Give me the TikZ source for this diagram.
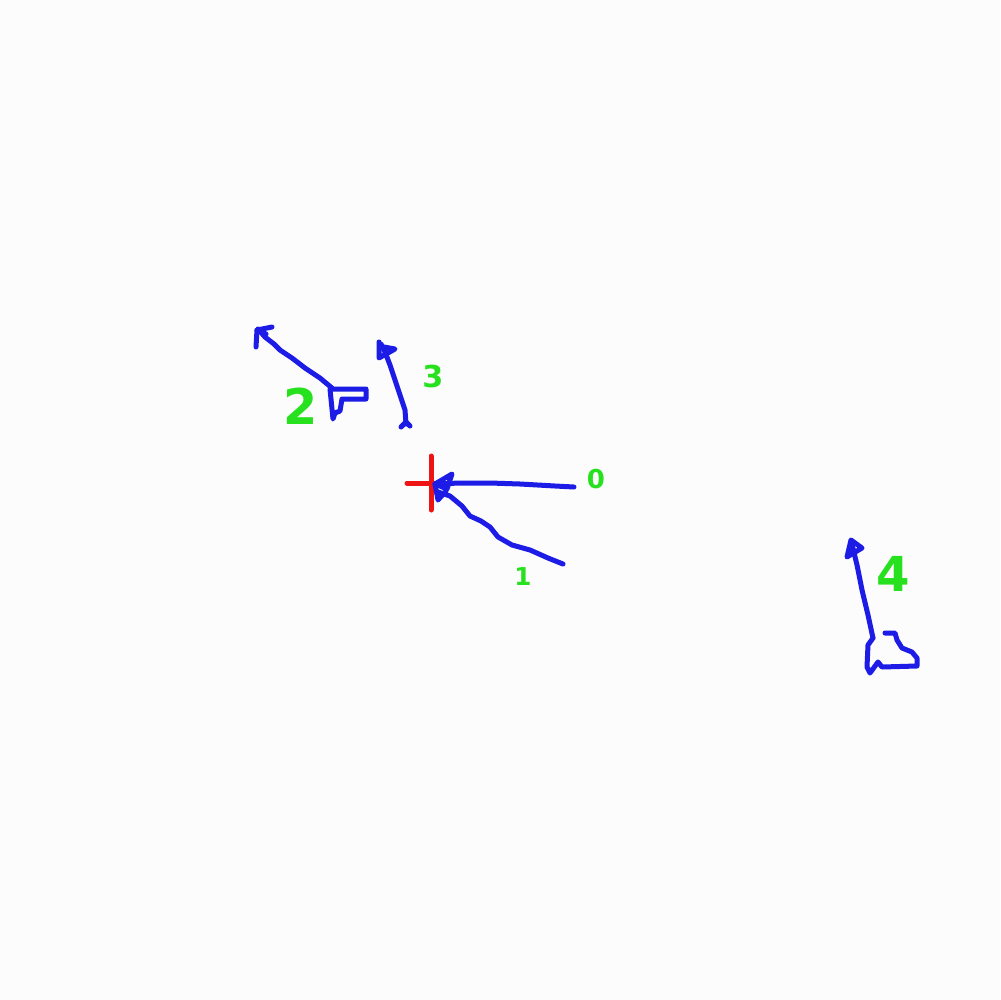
\documentclass[tikz,border=0pt]{standalone}
\usepackage{fontspec}
\setmainfont{DejaVu Sans}
\begin{document}
\begin{tikzpicture}[x=0.1mm,y=-0.1mm,
  pen/.style={draw=penblue,line width=0.5mm,line cap=round,line join=round},
  redpen/.style={draw=penred,line width=0.5mm,line cap=round},
  lbl/.style={text=pengreen,inner sep=0pt}]
\definecolor{penblue}{RGB}{28,28,230}
\definecolor{penred}{RGB}{238,20,20}
\definecolor{pengreen}{RGB}{40,225,30}
\fill[white!99!black] (0,0) rectangle (1000,1000);
\useasboundingbox (0,0) rectangle (1000,1000);
% red cross
\draw[redpen] (407,483) -- (450,483);
\draw[redpen] (431,456) -- (431,510);
% arrow 0
\coordinate (s0) at (574,487);
\coordinate (t0) at (435,484);
\draw[pen] (s0) -- (555,486) -- (520,484) -- (490,483) -- (460,483) -- (t0);
\draw[pen] (t0) -- (452,474) -- (447,489) -- cycle;
\draw[pen] (t0) -- (438,500) -- (446,491);
% arrow 1
\coordinate (s1) at (563,564);
\coordinate (t1) at (438,492);
\draw[pen] (s1) -- (548,558) -- (530,550) -- (512,545) -- (498,537) -- (490,527) -- (481,521) -- (470,516) -- (462,506) -- (450,496) -- (t1);
% arrow 2
\coordinate (s2) at (332,388);
\coordinate (t2) at (258,329);
\draw[pen] (s2) -- (320,378) -- (305,368) -- (292,358) -- (280,350) -- (274,344) -- (265,337) -- (t2);
\draw[pen] (256,347) -- (257,330) -- (272,327);
\draw[pen] (257,330) -- (266,334);
% L shape near 2
\draw[pen] (330,389) -- (366,389) -- (366,399) -- (342,399) -- (340,411) -- (335,413) -- (333,419) -- cycle;
% arrow 3
\coordinate (s3) at (406,424);
\coordinate (t3) at (381,344);
\draw[pen] (s3) -- (405,410) -- (400,395) -- (395,380) -- (390,365) -- (385,352) -- (t3);
\draw[pen] (401,427) -- (406,422) -- (410,426);
\draw[pen] (379,342) -- (379,358) -- (395,349) -- (384,347);
% arrow 4
\coordinate (s4) at (873,638);
\coordinate (t4) at (852,544);
\draw[pen] (s4) -- (868,615) -- (862,590) -- (857,565) -- (t4);
\draw[pen] (847,557) -- (851,540) -- (862,548) -- cycle;
% boot shape
\draw[pen] (873,638) -- (868,645) -- (867,667) -- (870,673) -- (878,662) -- (882,667) -- (917,666) -- (917,658) -- (912,652) -- (902,648) -- (897,640) -- (895,633) -- (885,633);
% labels
\node[lbl,font=\bfseries\fontsize{7.4}{7.4}\selectfont] (l0) at (596,479) {0};
\node[lbl,font=\bfseries\fontsize{7}{7}\selectfont] (l1) at (523,577) {1};
\node[lbl,font=\bfseries\fontsize{14}{14}\selectfont] (l2) at (301,406) {2};
\node[lbl,font=\bfseries\fontsize{8.6}{8.6}\selectfont] (l3) at (433,376) {3};
\node[lbl,font=\bfseries\fontsize{13.7}{13.7}\selectfont] (l4) at (893,574) {4};
\end{tikzpicture}
\end{document}
